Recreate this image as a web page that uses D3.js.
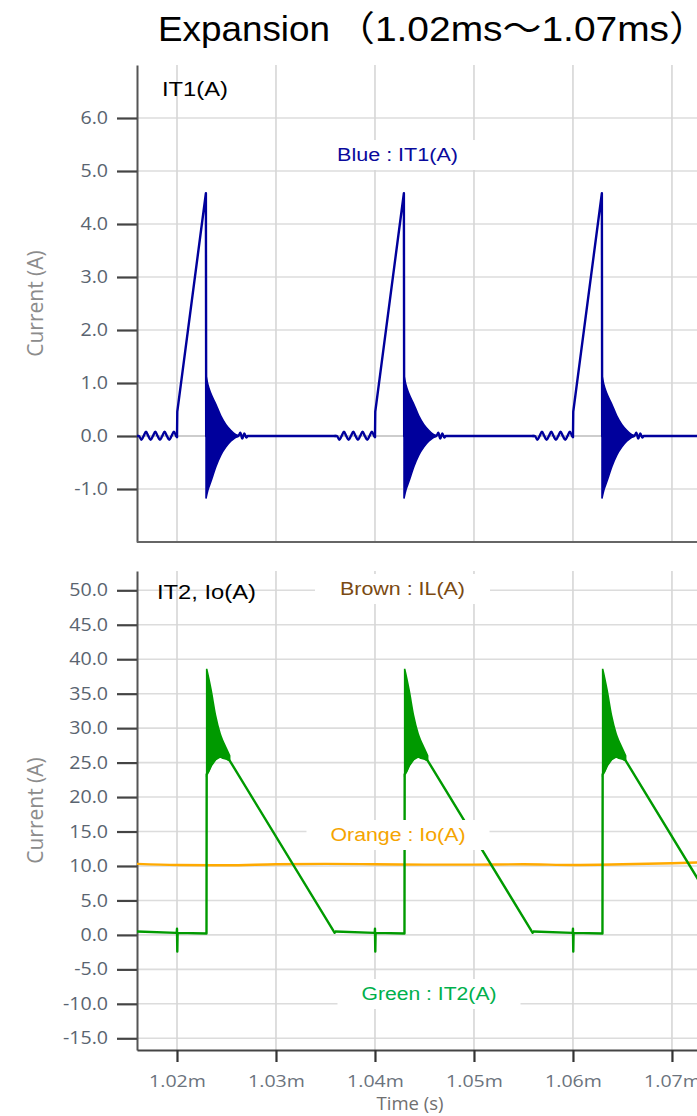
<!DOCTYPE html>
<html><head><meta charset="utf-8">
<script src="https://cdn.jsdelivr.net/npm/d3@7"></script>
<style>
html,body{margin:0;padding:0;background:#fff;}
svg{display:block;}
</style></head>
<body>
<svg id="chart" width="697" height="1116"></svg>
<script>
// ================= DATA =================
const titleMain = "Expansion";
const titleRange = "\uFF081.02ms\uFF5E1.07ms\uFF09";
const xTicks = [1020, 1030, 1040, 1050, 1060, 1070];            // time in µs
const xTickLabels = ["1.02m", "1.03m", "1.04m", "1.05m", "1.06m", "1.07m"];
const topTicks = [-1, 0, 1, 2, 3, 4, 5, 6];
const bottomTicks = [-15, -10, -5, 0, 5, 10, 15, 20, 25, 30, 35, 40, 45, 50];

// switching instants (µs); the three periods look identical
const cycleStarts = [1020, 1040, 1060];

// IT1 (A): [offset from switching instant µs, value]
const it1Pre = [            // small oscillation before turn-on
  [-4.04, 0], [-3.84, 0], [-3.6, -0.07], [-3.37, 0], [-3.13, 0.08], [-2.9, 0],
  [-2.66, -0.07], [-2.43, 0], [-2.19, 0.08], [-1.96, 0], [-1.72, -0.07],
  [-1.49, 0], [-1.25, 0.08], [-1.02, 0], [-0.78, -0.07], [-0.55, 0],
  [-0.31, 0.08], [-0.08, 0], [0.0, -0.02]
];
const it1Pulse = [          // step, ramp, turn-off
  [0.0, -0.02], [0.03, 0.46], [2.92, 4.58], [2.95, 0.0]
];
const it1Post = [           // tail after the ringing
  [6.0, 0.0], [6.2, 0.0], [6.4, 0.06], [6.6, -0.05], [6.8, 0.05],
  [7.0, -0.03], [7.15, 0], [16.0, 0]
];
// IT1 ringing after turn-off: [offset µs, upper envelope, lower envelope]
const it1Ringing = [
  [2.93, 1.15, -1.18], [3.13, 0.97, -1.02], [3.43, 0.8, -0.86],
  [3.93, 0.6, -0.58], [4.43, 0.38, -0.36], [4.93, 0.22, -0.21],
  [5.43, 0.11, -0.1], [5.83, 0.04, -0.04], [6.15, 0.01, -0.01]
];

// IT2 (A): before rise, and after the ringing
const it2Before = [
  [-4.04, 0.5], [-0.06, 0.3], [-0.02, 0.3], [0.0, 0.9], [0.03, -2.4],
  [0.06, 0.3], [2.98, 0.2], [3.0, 23.3]
];
const it2After = [
  [5.32, 25.3], [15.93, 0.3], [16.0, 0.5]
];
// IT2 ringing at turn-on: [offset µs, upper envelope, lower envelope]
const it2Ringing = [
  [3.0, 38.6, 23.3], [3.2, 37.3, 23.8], [3.45, 35.5, 24.6], [3.9, 31.8, 25.5],
  [4.36, 29.2, 25.9], [4.62, 28.2, 25.7], [4.97, 27.1, 25.6], [5.32, 26.0, 25.3]
];

// Io (A)
const ioTimes  = [1015.96, 1020, 1025, 1030, 1035, 1040, 1045, 1050, 1055, 1060, 1065, 1070, 1072.6];
const ioValues = [10.3, 10.15, 10.1, 10.25, 10.3, 10.25, 10.2, 10.2, 10.25, 10.15, 10.25, 10.4, 10.5];

// legend labels
const legendTop = [{text: "Blue : IT1(A)", color: "#0a0a9c"}];
const legendBottom = [
  {text: "Brown : IL(A)", color: "#7a4a12"},
  {text: "Orange : Io(A)", color: "#f5a400"},
  {text: "Green : IT2(A)", color: "#00b04c"}
];

// ================= DRAW =================
const svg = d3.select("#chart");
const L = 137, R = 697;
const x = d3.scaleLinear().domain([1015.96, 1072.53]).range([L, R]);
const yTop = d3.scaleLinear().domain([-2, 7]).range([542, 65]);
const yBot = d3.scaleLinear().domain([-16.7, 52.8]).range([1050, 571]);

const tickFont = "'Open Sans', 'DejaVu Sans', sans-serif";
const textFont = "'Liberation Sans', Arial, 'Noto Sans CJK JP', sans-serif";

function stretch(sel, k) {
  sel.each(function () {
    const w = this.getComputedTextLength();
    d3.select(this).attr("textLength", w * k).attr("lengthAdjust", "spacingAndGlyphs");
  });
}

// title
svg.append("text").attr("x", 158).attr("y", 41)
  .attr("font-family", textFont).attr("font-size", 35).attr("fill", "#000")
  .attr("textLength", 172).attr("lengthAdjust", "spacingAndGlyphs")
  .text(titleMain);
svg.append("text").attr("x", 336).attr("y", 41)
  .attr("font-family", textFont).attr("font-size", 35).attr("fill", "#000")
  .attr("textLength", 372).attr("lengthAdjust", "spacingAndGlyphs")
  .text(titleRange);

const defs = svg.append("defs");
function panel(id, y, ticks, yTop0, yBot0) {
  defs.append("clipPath").attr("id", id).append("rect")
    .attr("x", L).attr("y", yTop0).attr("width", R - L).attr("height", yBot0 - yTop0);
  const g = svg.append("g");
  g.selectAll("line.h").data(ticks).join("line")
    .attr("x1", L).attr("x2", R).attr("y1", d => y(d)).attr("y2", d => y(d))
    .attr("stroke", d => d === 0 && id === "clipTop" ? "#bdbdbd" : "#dcdcdc")
    .attr("stroke-width", 1.6);
  g.selectAll("line.v").data(xTicks).join("line")
    .attr("x1", d => x(d)).attr("x2", d => x(d)).attr("y1", yTop0).attr("y2", yBot0)
    .attr("stroke", "#d6d6d6").attr("stroke-width", 1.6);
  const ax = svg.append("g").attr("transform", `translate(${L},0)`)
    .call(d3.axisLeft(y).tickValues(ticks).tickSize(20).tickSizeOuter(0).tickPadding(9)
      .tickFormat(d => d.toFixed(1)));
  ax.select(".domain").attr("stroke", "#555").attr("stroke-width", 2);
  ax.selectAll(".tick line").attr("stroke", "#444").attr("stroke-width", 2.2);
  ax.selectAll(".tick text").attr("font-family", tickFont).attr("font-size", 17.5)
    .attr("fill", "#5a6470").call(stretch, 1.12);
  svg.append("text")
    .attr("transform", `translate(43,${(yTop0 + yBot0) / 2}) rotate(-90)`)
    .attr("text-anchor", "middle").attr("font-family", tickFont).attr("font-size", 21)
    .attr("fill", "#8c8c8c").text("Current (A)");
  return g;
}

// ---------- top panel ----------
panel("clipTop", yTop, topTicks, 65, 542);
svg.append("line").attr("x1", L).attr("x2", R).attr("y1", 542).attr("y2", 542)
  .attr("stroke", "#666").attr("stroke-width", 2);
svg.append("text").attr("x", 162).attr("y", 96).attr("font-family", textFont)
  .attr("font-size", 20).attr("fill", "#000")
  .attr("textLength", 66).attr("lengthAdjust", "spacingAndGlyphs").text("IT1(A)");

const topData = svg.append("g").attr("clip-path", "url(#clipTop)");
const blue = "#00009c";
const lineSmooth = (y) => d3.line().x(d => x(d[0])).y(d => y(d[1])).curve(d3.curveMonotoneX);
const lineSharp = (y) => d3.line().x(d => x(d[0])).y(d => y(d[1]));
const areaTop = d3.area().x(d => x(d[0])).y0(d => yTop(d[2])).y1(d => yTop(d[1]))
  .curve(d3.curveMonotoneX);
cycleStarts.forEach(s => {
  topData.append("path").datum(it1Ringing.map(r => [s + r[0], r[1], r[2]]))
    .attr("d", areaTop).attr("fill", blue).attr("stroke", blue).attr("stroke-width", 1.5);
  [[it1Pre, lineSmooth], [it1Pulse, lineSharp], [it1Post, lineSmooth]].forEach(([arr, gen]) => {
    topData.append("path").datum(arr.map(p => [s + p[0], p[1]]))
      .attr("d", gen(yTop)).attr("fill", "none").attr("stroke", blue)
      .attr("stroke-width", 2.4).attr("stroke-linejoin", "round").attr("stroke-linecap", "round");
  });
});

// ---------- bottom panel ----------
panel("clipBot", yBot, bottomTicks, 571, 1050);
const xa = svg.append("g").attr("transform", "translate(0,1050)")
  .call(d3.axisBottom(x).tickValues(xTicks).tickSize(12).tickSizeOuter(0).tickPadding(13)
    .tickFormat((d, i) => xTickLabels[i]));
xa.select(".domain").attr("stroke", "#444").attr("stroke-width", 2.2);
xa.selectAll(".tick line").attr("stroke", "#333").attr("stroke-width", 2.2);
xa.selectAll(".tick text").attr("font-family", tickFont).attr("font-size", 17)
  .attr("fill", "#6b737d").call(stretch, 1.15);
svg.append("text").attr("x", 410).attr("y", 1110).attr("text-anchor", "middle")
  .attr("font-family", tickFont).attr("font-size", 18.5).attr("fill", "#6f6f6f").text("Time (s)");
svg.append("text").attr("x", 157).attr("y", 599).attr("font-family", textFont)
  .attr("font-size", 21).attr("fill", "#000")
  .attr("textLength", 99).attr("lengthAdjust", "spacingAndGlyphs").text("IT2, Io(A)");

const botData = svg.append("g").attr("clip-path", "url(#clipBot)");
const green = "#009a00";
const areaBot = d3.area().x(d => x(d[0])).y0(d => yBot(d[2])).y1(d => yBot(d[1]))
  .curve(d3.curveMonotoneX);
botData.append("path").datum(ioTimes.map((t, i) => [t, ioValues[i]]))
  .attr("d", lineSmooth(yBot)).attr("fill", "none")
  .attr("stroke", "#ffaa00").attr("stroke-width", 2.4);
cycleStarts.forEach(s => {
  const pts = it2Before.map(p => [s + p[0], p[1]])
    .concat(it2Ringing.map(r => [s + r[0], r[2]]))
    .concat(it2After.map(p => [s + p[0], p[1]]));
  botData.append("path").datum(pts).attr("d", lineSharp(yBot)).attr("fill", "none")
    .attr("stroke", green).attr("stroke-width", 2.4).attr("stroke-linejoin", "round");
  botData.append("path").datum(it2Ringing.map(r => [s + r[0], r[1], r[2]]))
    .attr("d", areaBot).attr("fill", green).attr("stroke", green).attr("stroke-width", 1.6);
});

// ---------- legend labels (white boxes) ----------
function label(item, cx, cy, width, padX) {
  const g = svg.append("g");
  g.append("rect").attr("x", cx - width / 2 - padX).attr("y", cy - 15)
    .attr("width", width + 2 * padX).attr("height", 30).attr("fill", "#fff");
  g.append("text").attr("x", cx).attr("y", cy).attr("text-anchor", "middle")
    .attr("dominant-baseline", "central").attr("font-family", textFont)
    .attr("font-size", 18).attr("fill", item.color)
    .attr("textLength", width).attr("lengthAdjust", "spacingAndGlyphs").text(item.text);
}
label(legendTop[0], 397.5, 155, 121, 20);
label(legendBottom[0], 402.5, 589, 125, 25);
label(legendBottom[1], 398, 835, 135, 24);
label(legendBottom[2], 429, 994, 135, 24);
</script>
</body></html>
